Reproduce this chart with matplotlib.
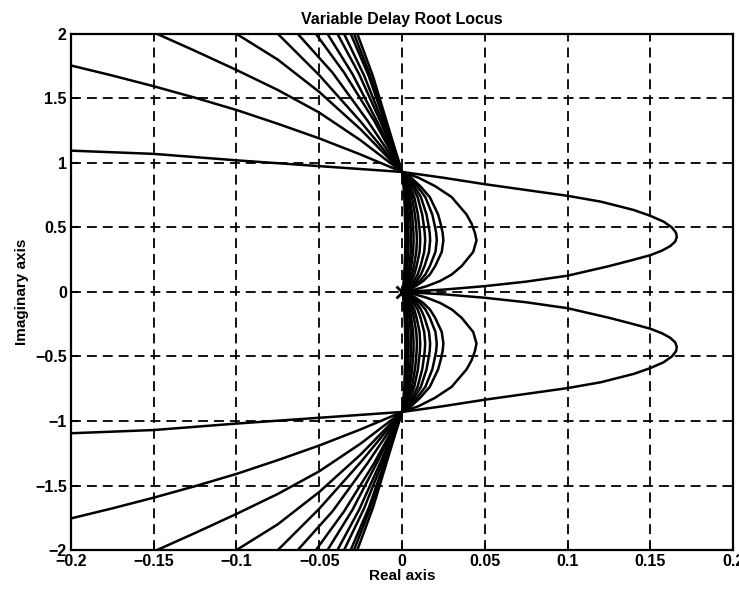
import numpy as np
import matplotlib
matplotlib.use('Agg')
import matplotlib.pyplot as plt

# Root locus (upper half only; the lower half is the mirror image).
# Each locus = a branch coming in from the upper left to the crossing near 0.93j,
# then a loop to the right that ends in the origin.

# left branches (real, imag), from the plot edge to the crossing
left_1 = [(-0.2, 1.095), (-0.15, 1.07), (-0.1, 1.02), (-0.05, 0.975), (0.0, 0.93)]
left_2 = [(-0.2, 1.755), (-0.175, 1.677), (-0.15, 1.594), (-0.125, 1.505), (-0.1, 1.41),
          (-0.075, 1.303), (-0.05, 1.19), (-0.025, 1.065), (0.0, 0.93)]
left_3 = [(-0.148, 2.0), (-0.125, 1.868), (-0.1, 1.72), (-0.075, 1.565), (-0.05, 1.39),
          (-0.025, 1.175), (0.0, 0.93)]
left_4 = [(-0.1, 2.0), (-0.075, 1.8), (-0.05, 1.55), (-0.025, 1.26), (0.0, 0.93)]
left_5 = [(-0.075, 2.0), (-0.05, 1.68), (-0.025, 1.32), (0.0, 0.93)]
left_6 = [(-0.063, 2.0), (-0.042, 1.7), (-0.021, 1.33), (0.0, 0.93)]
left_7 = [(-0.052, 2.0), (-0.035, 1.7), (-0.017, 1.33), (0.0, 0.93)]
left_8 = [(-0.045, 2.0), (-0.03, 1.69), (-0.015, 1.32), (0.0, 0.93)]
left_9 = [(-0.039, 2.0), (-0.026, 1.69), (-0.013, 1.32), (0.0, 0.93)]
left_10 = [(-0.035, 2.0), (-0.023, 1.68), (-0.0115, 1.31), (0.0, 0.93)]
left_11 = [(-0.031, 2.0), (-0.02, 1.67), (-0.01, 1.3), (0.0, 0.93)]
left_12 = [(-0.029, 2.0), (-0.019, 1.67), (-0.0095, 1.3), (0.0, 0.93)]
left_13 = [(-0.027, 2.0), (-0.0175, 1.67), (-0.0088, 1.3), (0.0, 0.93)]

# the big loop (real, imag), from the crossing to the origin
loop_1 = [(0.0, 0.93), (0.025, 0.885), (0.05, 0.835), (0.075, 0.79), (0.1, 0.745),
          (0.12, 0.70), (0.14, 0.635), (0.15, 0.59), (0.158, 0.545), (0.163, 0.50),
          (0.1655, 0.46), (0.166, 0.425), (0.165, 0.39), (0.162, 0.355), (0.157, 0.32),
          (0.15, 0.285), (0.14, 0.25), (0.125, 0.2), (0.1, 0.126), (0.075, 0.08),
          (0.05, 0.045), (0.025, 0.018), (0.0, 0.0)]

# the smaller loops share the imaginary samples below; real parts read per loop
loop_im = [0.93, 0.885, 0.82, 0.735, 0.6, 0.53, 0.46, 0.4, 0.31, 0.2, 0.135, 0.085, 0.045, 0.016, 0.0]
loop_2 = [0, 0.01, 0.02, 0.03, 0.039, 0.042, 0.044, 0.045, 0.043, 0.036, 0.03, 0.023, 0.015, 0.007, 0]
loop_3 = [0, .0055, .011, .0168, .0218, .0233, .0245, .025, .024, .02, .0168, .0128, .0083, .004, 0]
loop_4 = [0, .0046, .0092, .0141, .0183, .0195, .0206, .021, .0202, .0168, .0141, .0107, .0069, .0034, 0]
loop_5 = [0, .0037, .0075, .0114, .0148, .0158, .0167, .017, .0163, .0136, .0114, .0087, .0056, .0027, 0]
loop_6 = [0, .0031, .0062, .0094, .0122, .013, .0137, .014, .0134, .0112, .0094, .0071, .0046, .0022, 0]
loop_7 = [0, .0024, .0048, .0074, .0096, .0102, .0108, .011, .0106, .0088, .0074, .0056, .0036, .0018, 0]
loop_8 = [0, .002, .004, .006, .0078, .0084, .0088, .009, .0086, .0072, .006, .0046, .003, .0014, 0]
loop_9 = [0, .0015, .0031, .0047, .0061, .0065, .0069, .007, .0067, .0056, .0047, .0036, .0023, .0011, 0]
loop_10 = [0, .0012, .0024, .0037, .0048, .0051, .0054, .0055, .0053, .0044, .0037, .0028, .0018, .0009, 0]
loop_11 = [0, .0009, .0018, .0027, .0035, .0037, .0039, .004, .0038, .0032, .0027, .002, .0013, .0006, 0]
loop_12 = [0, .0007, .0014, .002, .0026, .0028, .0029, .003, .0029, .0024, .002, .0015, .001, .0005, 0]
loop_13 = [0, .0005, .0009, .0014, .0017, .0019, .002, .002, .0019, .0016, .0013, .001, .0007, .0003, 0]

pole_re = [0.0]
pole_im = [0.0]

x_ticks = [-0.2, -0.15, -0.1, -0.05, 0, 0.05, 0.1, 0.15, 0.2]
x_labels = ['-0.2', '-0.15', '-0.1', '-0.05', '0', '0.05', '0.1', '0.15', '0.2']
y_ticks = [-2, -1.5, -1, -0.5, 0, 0.5, 1, 1.5, 2]
y_labels = ['-2', '-1.5', '-1', '-0.5', '0', '0.5', '1', '1.5', '2']

lefts = [left_1, left_2, left_3, left_4, left_5, left_6, left_7,
         left_8, left_9, left_10, left_11, left_12, left_13]
loops = [loop_1] + [list(zip(lx, loop_im)) for lx in
                    [loop_2, loop_3, loop_4, loop_5, loop_6, loop_7,
                     loop_8, loop_9, loop_10, loop_11, loop_12, loop_13]]

plt.rcParams['font.family'] = ['Liberation Sans', 'DejaVu Sans']

fig = plt.figure(figsize=(7.39, 5.94), dpi=100)
ax = fig.add_axes([0.096, 0.074, 0.896, 0.869])

for left, loop in zip(lefts, loops):
    pts = np.array(left[:-1] + loop)
    ax.plot(pts[:, 0], pts[:, 1], color='black', lw=1.8, solid_joinstyle='round')
    ax.plot(pts[:, 0], -pts[:, 1], color='black', lw=1.8, solid_joinstyle='round')

ax.plot(pole_re, pole_im, 'kx', markersize=8, mew=2)

ax.set_xlim(-0.2, 0.2)
ax.set_ylim(-2, 2)
ax.set_xticks(x_ticks)
ax.set_xticklabels([l.replace('-', '\u2212') for l in x_labels])
ax.set_yticks(y_ticks)
ax.set_yticklabels([l.replace('-', '\u2212') for l in y_labels])
ax.tick_params(direction='in', length=5, width=1.3, labelsize=11.5, pad=3)
for lab in ax.get_xticklabels() + ax.get_yticklabels():
    lab.set_fontweight('bold')

ax.grid(True, color='black', lw=1.3, linestyle=(0, (5.5, 3.3)))
for sp in ax.spines.values():
    sp.set_linewidth(1.6)

ax.set_title('Variable Delay Root Locus', fontsize=11.5, fontweight='bold', pad=7)
ax.set_xlabel('Real axis', fontsize=11, fontweight='bold', labelpad=0)
ax.set_ylabel('Imaginary axis', fontsize=11, fontweight='bold', labelpad=4)

fig.savefig('out.png', dpi=100)
